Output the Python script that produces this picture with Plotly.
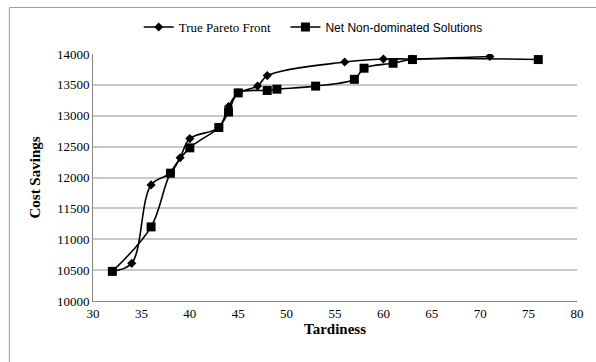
import plotly.graph_objects as go

true_x = [32, 34, 36, 38, 39, 40, 43, 44, 45, 47, 48, 56, 60, 63, 71]
true_y = [10480, 10610, 11880, 12070, 12320, 12630, 12810, 13150, 13370, 13480, 13650, 13870, 13920, 13920, 13960]

net_x = [32, 36, 38, 40, 43, 44, 45, 48, 49, 53, 57, 58, 61, 63, 76]
net_y = [10480, 11200, 12070, 12480, 12810, 13060, 13370, 13410, 13430, 13480, 13590, 13770, 13850, 13910, 13910]

x_ticks = [30, 35, 40, 45, 50, 55, 60, 65, 70, 75, 80]
y_ticks = [10000, 10500, 11000, 11500, 12000, 12500, 13000, 13500, 14000]

serif = "Liberation Serif, Times New Roman, serif"

fig = go.Figure()
fig.add_trace(go.Scatter(
    x=true_x, y=true_y, mode="lines+markers", name="True Pareto Front\u00a0\u00a0\u00a0",
    line=dict(color="black", width=1.6, shape="spline", smoothing=1),
    marker=dict(symbol="diamond", size=7, color="black"),
))
fig.add_trace(go.Scatter(
    x=net_x, y=net_y, mode="lines+markers",
    name='<span style="font-family:Liberation Sans, Arial, sans-serif;font-size:12px">Net Non-dominated Solutions</span>',
    line=dict(color="black", width=1.6, shape="spline", smoothing=1),
    marker=dict(symbol="square", size=9, color="black"),
))

L, R, T, B = 93, 17, 54, 61
W, H = 596, 362
pw, ph = W - L - R, H - T - B

fig.update_layout(
    width=W, height=H,
    margin=dict(l=L, r=R, t=T, b=B),
    paper_bgcolor="white", plot_bgcolor="white",
    font=dict(family=serif, size=13, color="black"),
    showlegend=True,
    legend=dict(orientation="h", x=0.455, xanchor="center", y=1.0 + 27 / ph, yanchor="middle",
                font=dict(family=serif, size=13), itemwidth=30, tracegroupgap=0,
                bgcolor="rgba(0,0,0,0)"),
    xaxis=dict(range=[30, 80], tickvals=x_ticks, ticktext=[str(v) for v in x_ticks],
               showgrid=False, zeroline=False, showline=True, linecolor="#868686", linewidth=1,
               ticks="", tickfont=dict(family=serif, size=13),
               title=dict(text="<b>Tardiness</b>", font=dict(family=serif, size=15), standoff=2)),
    yaxis=dict(range=[10000, 14000], tickvals=y_ticks, ticktext=[str(v) for v in y_ticks],
               showgrid=True, gridcolor="#c8c8c8", gridwidth=1.5, zeroline=False,
               showline=True, linecolor="#868686", linewidth=1, ticks="",
               tickfont=dict(family=serif, size=13),
               title=dict(text="<b>Cost Savings</b>", font=dict(family=serif, size=15), standoff=12)),
    shapes=[dict(type="rect", xref="paper", yref="paper",
                 x0=(9 - L) / pw, x1=(W + 10 - L) / pw,
                 y0=-(H + 10 - T - ph) / ph, y1=1 + (T - 7.5) / ph,
                 line=dict(color="#a0a0a0", width=1), fillcolor="rgba(0,0,0,0)", layer="below")],
)

fig.write_html("out.html", config={"displayModeBar": False},
               post_script="document.body.style.margin='0';document.body.style.overflow='hidden';")
